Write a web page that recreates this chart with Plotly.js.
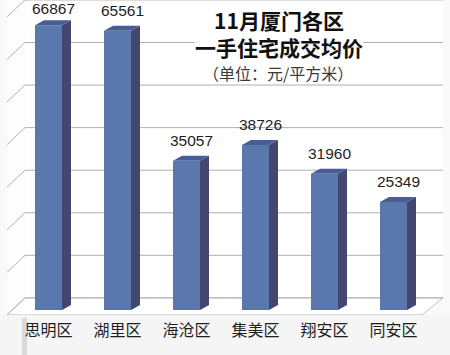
<!DOCTYPE html>
<html>
<head>
<meta charset="utf-8">
<script src="https://cdn.plot.ly/plotly-3.0.1.min.js"></script>
<style>html,body{margin:0;padding:0;background:#f5f5f5;}#chart{width:450px;height:355px;}</style>
</head>
<body>
<div id="chart"></div>
<script>
// ---- data ----
const categories = ['思明区', '湖里区', '海沧区', '集美区', '翔安区', '同安区'];
const values = [66867, 65561, 35057, 38726, 31960, 25349];
const gridValues = [0, 10000, 20000, 30000, 40000, 50000, 60000, 70000];
const titleLines = ['11月厦门各区', '一手住宅成交均价', '（单位：元/平方米）'];

// ---- geometry (pixel-based look of the 3D chart) ----
const W = 450, H = 355, MB = 40;
const plotH = H - MB;                 // 315
const yRange = [-1200, 72800];
const U = (yRange[1] - yRange[0]) / plotH;   // value units per pixel
const PXX = 69;                       // pixels per category
const center0 = 48.5;                 // pixel of first category centre
const xRange = [-center0 / PXX, (W - center0) / PXX];
const px2x = p => (p - center0) / PXX;
const pxy2y = p => (plotH - p) * U + yRange[0];
const barW = 27 / PXX;
const dX = 9 / PXX, dY = 5 * U;       // bar depth
const backOff = 12 * U;               // back wall offset above bar base
const frontOff = -5 * U;              // front floor edge below bar base
const xb0 = px2x(25), xb1 = px2x(443), xf0 = px2x(7), xfR = px2x(422);

const traces = [];
traces.push({
  type: 'bar', x: categories.map((c, i) => i), y: values, width: barW,
  marker: {color: '#5a78ae', line: {width: 0}}, hoverinfo: 'skip', showlegend: false
});
values.forEach((v, i) => {
  const r = i + barW / 2, l = i - barW / 2;
  traces.push({
    type: 'scatter', mode: 'lines', fill: 'toself', fillcolor: '#41476f',
    line: {width: 0, color: '#41476f'}, hoverinfo: 'skip', showlegend: false,
    x: [r, r + dX, r + dX, r, r], y: [0, dY, v + dY, v, 0]
  });
  traces.push({
    type: 'scatter', mode: 'lines', fill: 'toself', fillcolor: '#4a5c94',
    line: {width: 0, color: '#4a5c94'}, hoverinfo: 'skip', showlegend: false,
    x: [l, r, r + dX, l + dX, l], y: [v, v, v + dY, v + dY, v]
  });
});

const shapes = [];
shapes.push({type: 'path', layer: 'below', line: {width: 0}, fillcolor: '#ffffff',
  path: `M${xb0},${backOff} L${xb1},${backOff} L${xb1},${yRange[1]} L${xb0},${yRange[1]} Z`});
shapes.push({type: 'path', layer: 'below', line: {width: 0}, fillcolor: '#fdfdfd',
  path: `M${xf0},${frontOff} L${xb0},${backOff} L${xb0},${yRange[1]} L${xf0},${yRange[1]} Z`});
shapes.push({type: 'path', layer: 'below', line: {width: 1, color: '#c4c4c4'}, fillcolor: '#ffffff',
  path: `M${xf0},${frontOff} L${xfR},${frontOff} L${xb1},${backOff} L${xb0},${backOff} Z`});
gridValues.forEach(g => {
  shapes.push({type: 'line', layer: 'below', x0: xb0, x1: xb1, y0: g + backOff, y1: g + backOff,
    line: {color: '#b0b0b0', width: 1}});
  shapes.push({type: 'line', layer: 'below', x0: xb0, x1: xf0, y0: g + backOff, y1: g + frontOff,
    line: {color: '#b0b0b0', width: 1}});
});
shapes.push({type: 'rect', xref: 'paper', yref: 'paper', layer: 'below',
  x0: 22 / W, x1: 27 / W, y0: 1 - 355 / plotH, y1: 1 - 318 / plotH,
  line: {width: 0}, fillcolor: 'rgba(170,170,170,0.35)'});

const annotations = [];
const labelCap = pxy2y(24);
values.forEach((v, i) => {
  annotations.push({
    x: i + dX / 2, y: Math.min(v + dY, labelCap), xref: 'x', yref: 'y',
    text: String(v), showarrow: false, xanchor: 'center', yanchor: 'bottom', yshift: 5,
    font: {family: 'Liberation Sans, Arial, sans-serif', size: 15.5, color: '#1e1e1e'}
  });
});
const py = p => 1 - p / plotH;
annotations.push({xref: 'paper', yref: 'paper', x: 279 / W, y: py(33.5),
  text: '<b>' + titleLines[0] + '<br>' + titleLines[1] + '</b>',
  showarrow: false, xanchor: 'center', yanchor: 'middle', bgcolor: '#ffffff', borderpad: 0,
  font: {family: 'Noto Sans CJK SC', size: 21, color: '#111111'}});
annotations.push({xref: 'paper', yref: 'paper', x: 278 / W, y: py(73), text: titleLines[2],
  showarrow: false, xanchor: 'center', yanchor: 'middle', borderpad: 0,
  font: {family: 'Noto Sans CJK SC', size: 16, color: '#3a3a3a'}});

const layout = {
  width: W, height: H,
  margin: {l: 0, r: 0, t: 0, b: MB, pad: 0},
  paper_bgcolor: '#f5f5f5', plot_bgcolor: '#f9f9f9',
  showlegend: false,
  xaxis: {type: 'linear', range: xRange, tickvals: categories.map((c, i) => i), ticktext: categories,
    showgrid: false, zeroline: false, showline: false, ticks: '', fixedrange: true, ticklabelstandoff: 4,
    tickfont: {family: 'Noto Sans CJK SC', size: 16, color: '#1e1e1e'}},
  yaxis: {range: yRange, showgrid: false, zeroline: false, showline: false, showticklabels: false,
    ticks: '', fixedrange: true},
  shapes: shapes, annotations: annotations
};
Plotly.newPlot('chart', traces, layout, {staticPlot: true, displayModeBar: false});
</script>
</body>
</html>
